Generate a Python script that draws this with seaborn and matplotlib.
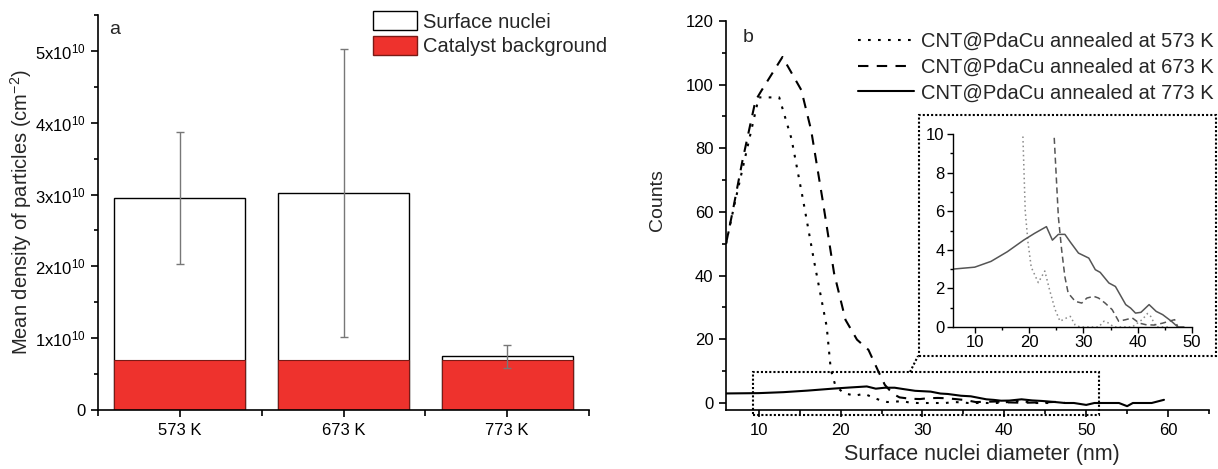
import numpy as np
import pandas as pd
import seaborn as sns
import matplotlib
matplotlib.use('Agg')
import matplotlib.pyplot as plt
from matplotlib.patches import Patch, Rectangle
from matplotlib.lines import Line2D
from matplotlib.ticker import MultipleLocator, FuncFormatter

# Data: panel a
temps = ['573 K', '673 K', '773 K']
total_density = [2.95e10, 3.02e10, 0.745e10]
background_density = [0.69e10, 0.69e10, 0.69e10]
total_err = [0.92e10, 2.01e10, 0.165e10]

# Data: panel b (size distributions)
d573 = [6, 7, 8.5, 10, 12.5, 14, 15.4, 16.8, 18.3, 18.8, 19.3, 19.8, 20.4, 21.7, 22.3, 22.9,
        23.8, 24.8, 25.7, 26.9, 27.6, 28.5, 29.4, 32.8, 33.8, 34.7, 35.6, 39, 40.9, 41.8,
        42.4, 43.4, 46]
c573 = [50, 62, 79, 96, 96, 83, 64, 44, 24, 10.5, 6, 4.4, 3.1, 2.3, 2.6, 2.9,
        1.9, 0.9, 0.3, 0.47, 0.55, 0.1, 0, 0, 0.3, 0.2, 0, 0, 0.4, 0.7,
        0.55, 0, 0]
d673 = [6, 6.8, 8, 9.6, 10.3, 12.9, 15.2, 16.4, 17.8, 19.2, 20.6, 22, 23.4, 24.6, 25.4, 26,
        26.6, 27.2, 28.5, 29.7, 30.65, 31.9, 32.8, 34, 35.3, 36.5, 37.8, 39, 40.3, 41.5,
        43, 44.6, 45.8, 46.8, 47.4]
c673 = [50, 60, 76, 95, 98, 108.7, 98.3, 85.7, 63.8, 40.8, 26.1, 19.9, 16.7, 10, 5.7, 4,
        2.6, 1.76, 1.33, 1.24, 1.5, 1.59, 1.5, 1.24, 0.9, 0.3, 0.38, 0.47, 0.2, 0.12,
        0.1, 0.2, 0.3, 0.38, 0]
d773 = [6, 10, 13, 16, 19, 21, 23.2, 24.3, 25.4, 26.6, 27.6, 29.1, 31, 32.2, 33.1, 34.7,
        35.9, 37.8, 38.7, 39.6, 40.6, 42.1, 43.4, 44.6, 46.2, 47.4, 48.5, 50, 51, 54,
        55, 55.7, 58, 59.5]
c773 = [3.0, 3.1, 3.4, 3.9, 4.5, 4.85, 5.2, 4.5, 4.8, 4.8, 4.4, 3.83, 3.57, 2.97, 2.83, 2.28,
        2.1, 1.16, 0.98, 0.72, 0.76, 1.16, 0.81, 0.64, 0.3, 0, 0, -0.6, 0, 0,
        -1, 0, 0, 1]
series_labels = ['CNT@PdaCu annealed at 573 K', 'CNT@PdaCu annealed at 673 K',
                 'CNT@PdaCu annealed at 773 K']

sns.set_style('ticks')
plt.rcParams['font.family'] = ['Liberation Sans', 'DejaVu Sans']
plt.rcParams['mathtext.fontset'] = 'custom'
plt.rcParams['mathtext.rm'] = 'Liberation Sans'
plt.rcParams['mathtext.it'] = 'Liberation Sans:italic'
plt.rcParams['axes.edgecolor'] = 'black'
plt.rcParams['axes.linewidth'] = 1.2
plt.rcParams['xtick.color'] = 'black'
plt.rcParams['ytick.color'] = 'black'

W, H = 1218, 469
fig = plt.figure(figsize=(W / 100, H / 100), dpi=100)

red = '#ee322d'
tick_fs = 12

# ---------- panel a ----------
axa = fig.add_axes([98 / W, 1 - 410 / H, (589 - 98) / W, (410 - 15) / H])
sns.barplot(x=temps, y=total_density, color='white', edgecolor='black', linewidth=1,
            width=0.8, saturation=1, ax=axa)
sns.barplot(x=temps, y=background_density, color=red, edgecolor='#7a1a16', linewidth=0.8,
            width=0.8, saturation=1, ax=axa)
axa.errorbar(range(len(temps)), total_density, yerr=total_err, fmt='none',
             ecolor='#777777', elinewidth=1, capsize=3, capthick=1)
axa.set_xlim(-0.5, 2.5)
axa.set_ylim(0, 5.5e10)
axa.yaxis.set_major_locator(MultipleLocator(1e10))
axa.yaxis.set_minor_locator(MultipleLocator(0.5e10))
axa.xaxis.set_minor_locator(MultipleLocator(1, offset=0.5))


def sci_fmt(v, pos):
    n = int(round(v / 1e10))
    if n == 0:
        return '0'
    return r'$%d\mathrm{x}10^{10}$' % n


axa.yaxis.set_major_formatter(FuncFormatter(sci_fmt))
axa.set_ylabel(r'Mean density of particles (cm$^{-2}$)', fontsize=14.5)
axa.yaxis.set_label_coords((34 - 98) / 491, 0.5)
axa.tick_params(axis='both', which='major', direction='out', length=5, width=1.2,
                labelsize=tick_fs, pad=4)
axa.tick_params(axis='both', which='minor', direction='out', length=3, width=1.2)
axa.tick_params(axis='x', which='minor', length=4)
sns.despine(ax=axa)
axa.text((115 - 98) / 491, (410 - 30) / 395, 'a', transform=axa.transAxes, fontsize=14,
         ha='center', va='center')
handles_a = [Patch(facecolor='white', edgecolor='black', label='Surface nuclei'),
             Patch(facecolor=red, edgecolor='#7a1a16', label='Catalyst background')]
fig.legend(handles=handles_a, loc='upper left', bbox_to_anchor=(373 / W, 1 - 11 / H),
           frameon=False, fontsize=14.5, handlelength=2.2, handleheight=1.1,
           handletextpad=0.3, labelspacing=0.22, borderpad=0, borderaxespad=0)

# ---------- panel b ----------
axb = fig.add_axes([726 / W, 1 - 410 / H, (1209 - 726) / W, (410 - 21) / H])
styles = [(0, (1.3, 3.5)), (0, (5, 4)), '-']
data_b = [(d573, c573), (d673, c673), (d773, c773)]
for (dx, cy), ls, lab in zip(data_b, styles, series_labels):
    sns.lineplot(x=dx, y=cy, color='black', linestyle=ls, linewidth=1.5, ax=axb,
                 estimator=None, sort=False, label=lab)
axb.set_xlim(6, 65)
axb.set_ylim(-2.2, 120)
axb.xaxis.set_major_locator(MultipleLocator(10))
axb.xaxis.set_minor_locator(MultipleLocator(5))
axb.yaxis.set_major_locator(MultipleLocator(20))
axb.yaxis.set_minor_locator(MultipleLocator(10))
axb.tick_params(axis='both', which='major', direction='out', length=5, width=1.2,
                labelsize=tick_fs, pad=4)
axb.tick_params(axis='both', which='minor', direction='out', length=3, width=1.2)
axb.set_xlabel('Surface nuclei diameter (nm)', fontsize=15.5)
axb.xaxis.set_label_coords((982 - 726) / 483, -(465 - 410) / 389)
axb.xaxis.label.set_va('bottom')
axb.set_ylabel('Counts', fontsize=14)
axb.yaxis.set_label_coords((666 - 726) / 483, (410 - 200) / 389)
sns.despine(ax=axb)
axb.text((748 - 726) / 483, (410 - 38) / 389, 'b', transform=axb.transAxes, fontsize=14,
         ha='center', va='center')
axb.get_legend().remove()
handles_b = [Line2D([], [], color='black', linestyle=s, linewidth=1.5) for s in styles]
fig.legend(handles=handles_b, labels=series_labels, loc='upper left',
           bbox_to_anchor=(858 / W, 1 - 32 / H), frameon=False, fontsize=14.5,
           handlelength=2.8, handletextpad=0.35, labelspacing=0.33,
           borderpad=0, borderaxespad=0)

# zoom box on main axes
axb.add_patch(Rectangle((9.3, -3.8), 51.6 - 9.3, 9.8 + 3.8, fill=False, edgecolor='black',
                        linestyle=(0, (1, 1)), linewidth=1.5, clip_on=False, zorder=5))

# inset
axi = fig.add_axes([953 / W, 1 - 327 / H, (1192 - 953) / W, (327 - 134) / H])
inset_colors = ['#8a8a8a', '#555555', '#555555']
inset_styles = [(0, (1, 2)), (0, (4, 2.5)), '-']
for (dx, cy), ls, col in zip(data_b, inset_styles, inset_colors):
    sns.lineplot(x=dx, y=cy, color=col, linestyle=ls, linewidth=1.1, ax=axi,
                 estimator=None, sort=False)
axi.set_xlim(6, 50)
axi.set_ylim(0, 10)
axi.xaxis.set_major_locator(MultipleLocator(10))
axi.xaxis.set_minor_locator(MultipleLocator(5))
axi.yaxis.set_major_locator(MultipleLocator(2))
axi.yaxis.set_minor_locator(MultipleLocator(1))
axi.tick_params(axis='both', which='major', direction='out', length=4, width=1,
                labelsize=tick_fs, pad=2)
axi.tick_params(axis='both', which='minor', direction='out', length=2.5, width=1)
for s in ['left', 'bottom']:
    axi.spines[s].set_linewidth(1)
axi.set_facecolor('none')
sns.despine(ax=axi)

# dotted frame around inset and connector
fig.add_artist(Rectangle((919 / W, 1 - 356 / H), (1216 - 919) / W, (356 - 115) / H,
                         transform=fig.transFigure, fill=False, edgecolor='black',
                         linestyle=(0, (1, 1)), linewidth=1.5))
fig.add_artist(Line2D([910 / W, 918 / W], [1 - 372 / H, 1 - 356 / H],
                      transform=fig.transFigure, color='black',
                      linestyle=(0, (1, 1)), linewidth=1.5))

fig.savefig('out.png', dpi=100)
